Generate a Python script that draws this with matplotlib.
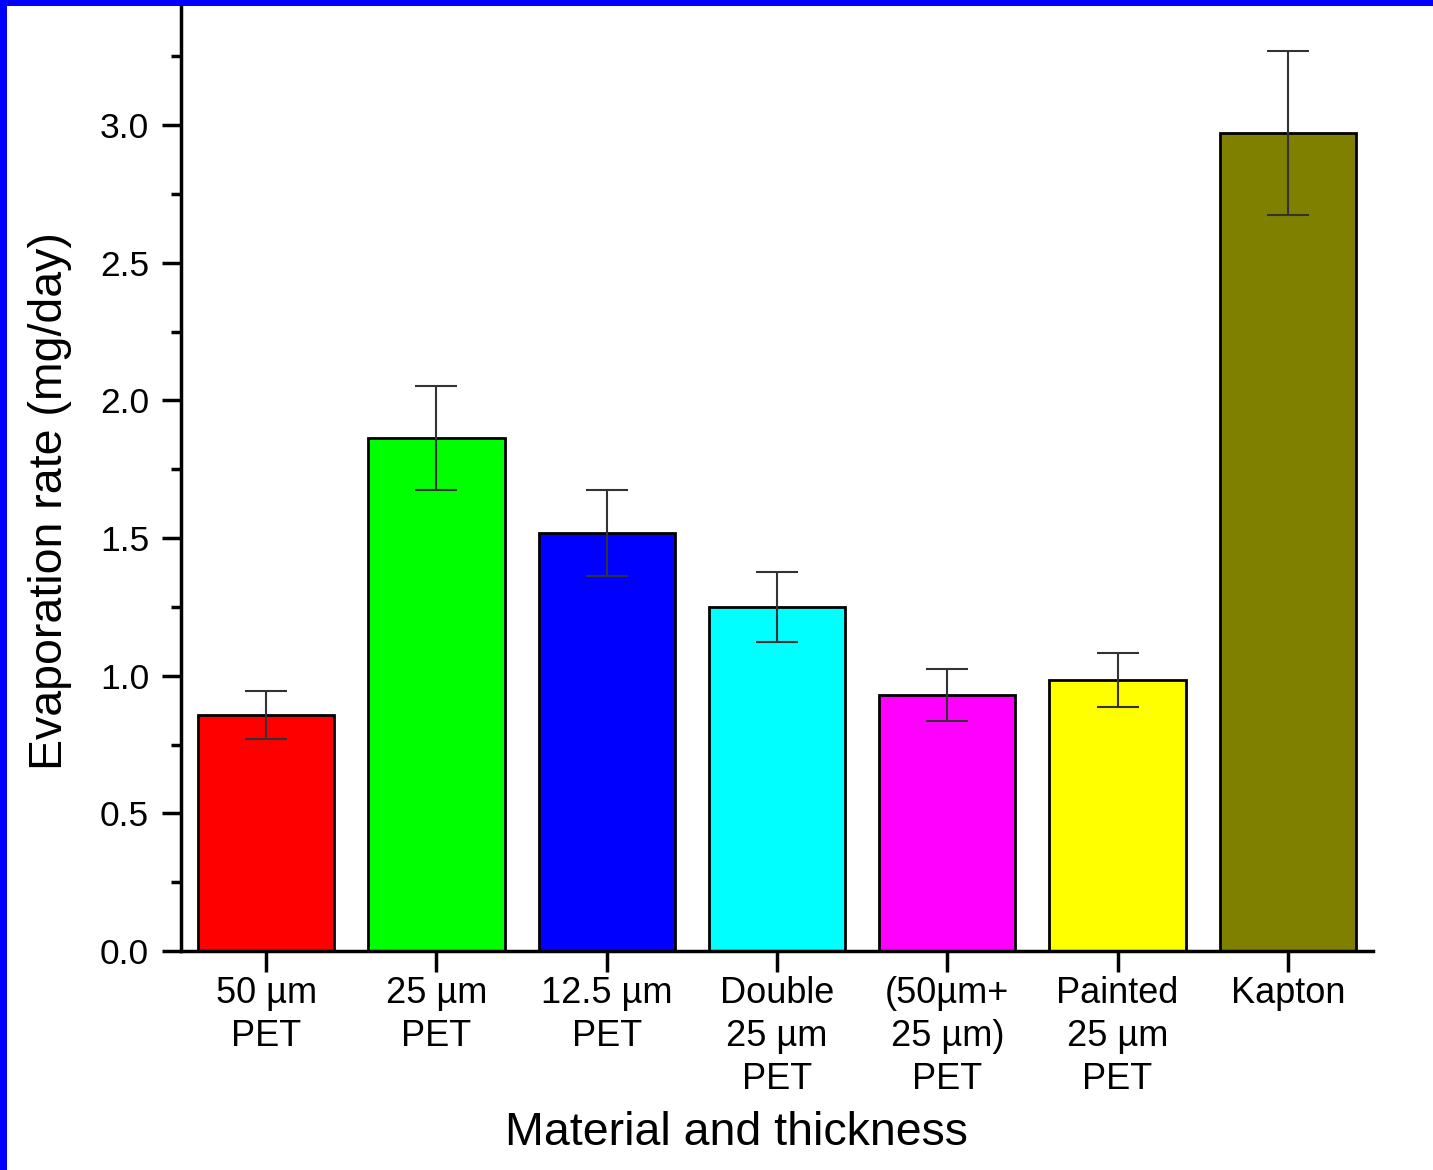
import matplotlib
matplotlib.use("Agg")
import matplotlib.pyplot as plt
from matplotlib.ticker import MultipleLocator
from matplotlib.patches import Rectangle

plt.rcParams['font.family'] = ['Liberation Sans', 'DejaVu Sans']

categories = ["50 µm\nPET", "25 µm\nPET", "12.5 µm\nPET", "Double\n25 µm\nPET",
              "(50µm+\n25 µm)\nPET", "Painted\n25 µm\nPET", "Kapton"]
values = [0.857, 1.863, 1.518, 1.250, 0.930, 0.984, 2.971]
errors = [0.087, 0.189, 0.155, 0.128, 0.093, 0.098, 0.298]
colors = ["#FF0000", "#00FF00", "#0000FF", "#00FFFF", "#FF00FF", "#FFFF00", "#808000"]

W, H = 1433, 1170
fig = plt.figure(figsize=(W / 100, H / 100), dpi=100)
ax = fig.add_axes([181 / W, (H - 951) / H, (1373 - 181) / W, 951 / H])

x = list(range(len(categories)))
ax.bar(x, values, width=0.8, color=colors, edgecolor="black", linewidth=2,
       yerr=errors, error_kw=dict(ecolor="#333333", elinewidth=1.5, capsize=15, capthick=1.5))

ax.set_xlim(-0.5, 6.5)
ax.set_ylim(0, 951 / 275.3)
ax.yaxis.set_major_locator(MultipleLocator(0.5))
ax.yaxis.set_minor_locator(MultipleLocator(0.25))
ax.yaxis.set_major_formatter(matplotlib.ticker.FormatStrFormatter('%.1f'))
ax.set_xticks(x)
ax.set_xticklabels(categories, fontsize=26, linespacing=1.3)
ax.tick_params(axis='y', which='major', length=14, width=2.5, labelsize=25.5, pad=9, direction='out')
ax.tick_params(axis='y', which='minor', length=7, width=2.5, direction='out')
ax.tick_params(axis='x', which='major', length=15, width=2.5, pad=3, direction='out')

for s in ['top', 'right']:
    ax.spines[s].set_visible(False)
for s in ['left', 'bottom']:
    ax.spines[s].set_linewidth(2.5)

fig.text(50 / W, (H - 501) / H, "Evaporation rate (mg/day)", rotation=90,
         ha='center', va='center', fontsize=33.5)
fig.text(736 / W, (H - 1145) / H, "Material and thickness", ha='center',
         va='baseline', fontsize=33.5)

# blue frame on left and top
fig.add_artist(Rectangle((0, 0), 7 / W, 1, transform=fig.transFigure,
                         facecolor="#0000FF", edgecolor='none', zorder=10))
fig.add_artist(Rectangle((0, 1 - 6 / H), 1, 6 / H, transform=fig.transFigure,
                         facecolor="#0000FF", edgecolor='none', zorder=10))

fig.savefig("out.png", dpi=100)
